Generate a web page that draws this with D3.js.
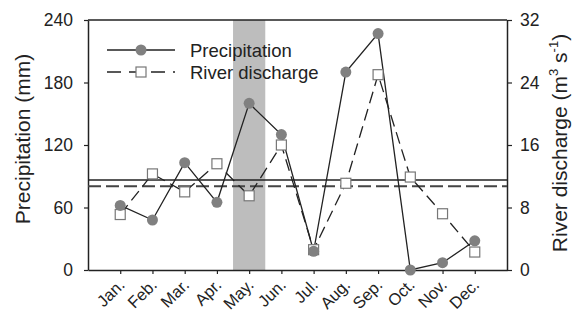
<!DOCTYPE html>
<html>
<head>
<meta charset="utf-8">
<script src="https://cdn.jsdelivr.net/npm/d3@7"></script>
<style>
 body{margin:0;background:#fff;}
 text{font-family:Arial,"Liberation Sans",sans-serif;fill:#222;}
</style>
</head>
<body>
<svg width="577" height="317"></svg>
<script>
'use strict';
// ...........Data...........
const months = ['Jan.','Feb.','Mar.','Apr.','May.','Jun.','Jul.','Aug.','Sep.','Oct.','Nov.','Dec.'];
const precipitation = [62, 48, 103, 65, 160, 130, 18, 190, 227, 0, 7, 28];
const discharge = [7.1, 12.3, 10.0, 13.6, 9.5, 16.0, 2.6, 11.1, 25.0, 11.9, 7.2, 2.3];
const leftTicks = [0, 60, 120, 180, 240];
const rightTicks = [0, 8, 16, 24, 32];
const shadedMonth = 'May.';

const svg = d3.select('svg');
const m = {left: 88, right: 507, top: 20, bottom: 270};

const x = d3.scaleLinear().domain([0, 13]).range([m.left, m.right]);
const xm = (d, i) => x(i + 1);
const yL = d3.scaleLinear().domain([0, 240]).range([m.bottom, m.top]);
const yR = d3.scaleLinear().domain([0, 32]).range([m.bottom, m.top]);

// shaded band
const si = months.indexOf(shadedMonth);
svg.append('rect')
  .attr('x', x(si + 0.5)).attr('y', m.top)
  .attr('width', x(si + 1.5) - x(si + 0.5))
  .attr('height', m.bottom - m.top)
  .attr('fill', '#bdbdbd');

// frame top line
svg.append('line')
  .attr('x1', m.left).attr('x2', m.right)
  .attr('y1', m.top).attr('y2', m.top)
  .attr('stroke', '#222').attr('stroke-width', 1.5);

// axes
const axL = svg.append('g').attr('transform', `translate(${m.left},0)`)
  .call(d3.axisLeft(yL).tickValues(leftTicks).tickSize(4).tickSizeOuter(0));
const axR = svg.append('g').attr('transform', `translate(${m.right},0)`)
  .call(d3.axisRight(yR).tickValues(rightTicks).tickSize(5).tickSizeOuter(0));
const axB = svg.append('g').attr('transform', `translate(0,${m.bottom})`)
  .call(d3.axisBottom(x).tickValues(d3.range(1, 13)).tickSize(4).tickSizeOuter(0).tickFormat(d => months[d - 1]));

[axL, axR, axB].forEach(a => {
  a.select('.domain').attr('stroke', '#222').attr('stroke-width', 1.5);
  a.selectAll('.tick line').attr('stroke', '#222').attr('stroke-width', 1.2);
  a.selectAll('text').attr('font-size', 17.5).attr('fill', '#222')
    .attr('font-family', 'Arial, "Liberation Sans", sans-serif');
});
axL.selectAll('text').attr('x', -15);
axR.selectAll('text').attr('x', 13);
axB.selectAll('text')
  .attr('font-size', 16.5)
  .attr('text-anchor', 'end')
  .attr('dy', 0).attr('y', 0)
  .attr('transform', 'translate(5,16) rotate(-45)');

// mean lines
svg.append('line')
  .attr('x1', m.left).attr('x2', m.right)
  .attr('y1', yL(d3.mean(precipitation))).attr('y2', yL(d3.mean(precipitation)))
  .attr('stroke', '#222').attr('stroke-width', 1.5);
svg.append('line')
  .attr('x1', m.left).attr('x2', m.right)
  .attr('y1', yR(d3.mean(discharge))).attr('y2', yR(d3.mean(discharge)))
  .attr('stroke', '#444').attr('stroke-width', 2).attr('stroke-dasharray', '13,5');

// series lines
const lineP = d3.line().x(xm).y(d => yL(d));
const lineD = d3.line().x(xm).y(d => yR(d));

svg.append('path').attr('d', lineD(discharge))
  .attr('fill', 'none').attr('stroke', '#222').attr('stroke-width', 1.3)
  .attr('stroke-dasharray', '12,6');
svg.append('path').attr('d', lineP(precipitation))
  .attr('fill', 'none').attr('stroke', '#222').attr('stroke-width', 1.3);

svg.selectAll('.sq').data(discharge).enter().append('rect')
  .attr('x', (d, i) => xm(d, i) - 5).attr('y', d => yR(d) - 5)
  .attr('width', 10).attr('height', 10)
  .attr('fill', '#fff').attr('stroke', '#777').attr('stroke-width', 1.2);
svg.selectAll('.dot').data(precipitation).enter().append('circle')
  .attr('cx', xm).attr('cy', d => yL(d)).attr('r', 5.5)
  .attr('fill', '#808080');

// legend
const lg = svg.append('g');
lg.append('line').attr('x1', 107).attr('x2', 175).attr('y1', 50).attr('y2', 50)
  .attr('stroke', '#222').attr('stroke-width', 1.3);
lg.append('circle').attr('cx', 141).attr('cy', 50).attr('r', 5.5).attr('fill', '#808080');
lg.append('line').attr('x1', 107).attr('x2', 175).attr('y1', 72).attr('y2', 72)
  .attr('stroke', '#222').attr('stroke-width', 1.3).attr('stroke-dasharray', '14,8');
lg.append('rect').attr('x', 136).attr('y', 67).attr('width', 10).attr('height', 10)
  .attr('fill', '#fff').attr('stroke', '#777').attr('stroke-width', 1.2);
lg.append('text').attr('x', 190).attr('y', 57).attr('font-size', 18.5).text('Precipitation');
lg.append('text').attr('x', 190).attr('y', 79).attr('font-size', 18.5).text('River discharge');

// axis titles
svg.append('text')
  .attr('transform', 'translate(30,139) rotate(-90)')
  .attr('text-anchor', 'middle').attr('font-size', 21)
  .text('Precipitation (mm)');
const rt = svg.append('text')
  .attr('transform', 'translate(567,143) rotate(-90)')
  .attr('text-anchor', 'middle').attr('font-size', 21);
rt.append('tspan').text('River discharge (m');
rt.append('tspan').attr('font-size', 13).attr('dy', -9).text('3');
rt.append('tspan').attr('dy', 9).text(' s');
rt.append('tspan').attr('font-size', 13).attr('dy', -9).text('-1');
rt.append('tspan').attr('dy', 9).text(')');
</script>
</body>
</html>
